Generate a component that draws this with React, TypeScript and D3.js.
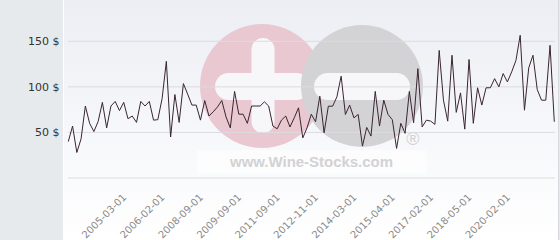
import React from "react";
import * as d3 from "d3";

const values: number[] = [
  40, 57, 28, 43, 79, 60, 51, 62, 83, 55,
  79, 84, 74, 83, 65, 68, 61, 84, 79, 84,
  63.5, 64, 87, 128, 45, 91.6, 61, 103.6, 92, 80,
  80, 63.5, 85, 68, 72.6, 78, 85, 67, 55, 95,
  70, 70, 60, 79, 79, 79, 83.6, 79, 57, 54,
  63.5, 68, 56, 66, 77, 44, 55, 70, 61.7, 89.8,
  49.6, 78.8, 78.8, 89, 111.7, 69.7, 80, 66, 69.7, 35,
  55.5, 46, 95, 57, 85.4, 69.7, 64, 32.5, 60, 49,
  95, 60.6, 120, 56, 63.5, 62.4, 58.8, 140, 85.4, 62.4,
  134.7, 72, 93.4, 53.6, 130, 60, 99, 80, 99, 99,
  109, 100, 114.6, 105.5, 116.4, 129, 156.6, 74.4, 120.8, 134.7,
  97, 85.4, 85.4, 145.6, 61.7,
];

const xTickLabels: string[] = [
  "2005-03-01", "2006-02-01", "2008-09-01", "2009-09-01", "2011-09-01",
  "2012-11-01", "2014-03-01", "2015-04-01", "2017-02-01", "2018-05-01", "2020-02-01",
];
const xTickIndices: number[] = [14, 23, 32, 41, 50, 59, 68, 77, 86, 95, 104];
const gridValues: number[] = [0, 50, 100, 150];
const yTickValues: number[] = [50, 100, 150];

export default function App() {
  const W = 560, H = 240;
  const idx = values.map((_, i) => i);
  const x = d3.scalePoint<number>().domain(idx).range([68.3, 554.3]);
  const y = d3.scaleLinear().domain([0, 150]).range([178, 41.3]);
  const line = d3.line<number>().x((_, i) => x(i) as number).y((d) => y(d));

  return (
    <svg width={W} height={H} style={{ position: "absolute", left: 0, top: 0 }} fontFamily="DejaVu Sans, sans-serif">
      <defs>
        <linearGradient id="bg" x1="0" y1="0" x2="0" y2="1">
          <stop offset="0" stopColor="#eceef4" />
          <stop offset="1" stopColor="#ffffff" />
        </linearGradient>
      </defs>
      <rect x={0} y={0} width={W} height={H} fill="#e6eaed" />
      <rect x={64} y={0} width={494} height={H} fill="url(#bg)" />
      <line x1={63.5} x2={63.5} y1={0} y2={H} stroke="#ffffff" strokeWidth={1} />
      <line x1={558.5} x2={558.5} y1={0} y2={H} stroke="#d6dadf" strokeWidth={1} />

      {/* watermark */}
      <g>
        <rect x={197} y={150} width={230} height={24} fill="#ffffff" opacity={0.5} />
        <circle cx={262} cy={86} r={62} fill="#e9c8d1" />
        <rect x={251.5} y={38} width={23} height={95} rx={11.5} fill="#f7f7fa" />
        <rect x={215} y={73} width={95} height={27} rx={13.5} fill="#f7f7fa" />
        <circle cx={362} cy={86} r={61} fill="#d3d3d5" />
        <rect x={314} y={73} width={96} height={27} rx={13.5} fill="#f7f7fa" />
        <text x={311.5} y={167} textAnchor="middle" fontSize={14} fontWeight="bold" fill="#d2d2d4"
          fontFamily="Liberation Sans, Arial, sans-serif" textLength={163} lengthAdjust="spacingAndGlyphs">
          www.Wine-Stocks.com
        </text>
        <text x={413} y={145} textAnchor="middle" fontSize={18} fill="#d2d2d4" fontFamily="Liberation Sans, Arial, sans-serif">®</text>
      </g>

      {gridValues.map((v) => (
        <line key={v} x1={68} x2={555} y1={y(v)} y2={y(v)} stroke="#dcdcdf" strokeWidth={1} />
      ))}
      {yTickValues.map((v) => (
        <text key={v} x={59.5} y={y(v)} dy="0.35em" textAnchor="end" fontSize={11} fill="#333333">
          {`${v} $`}
        </text>
      ))}
      {xTickIndices.map((ti, k) => {
        const tx = (x(ti) as number) - 1;
        return (
          <text key={ti} transform={`translate(${tx},${198}) rotate(-45)`} textAnchor="end" fontSize={10} fill="#8a8a8a">
            {xTickLabels[k]}
          </text>
        );
      })}

      <path d={line(values) ?? ""} fill="none" stroke="#3a2530" strokeWidth={1} strokeLinejoin="miter" />
    </svg>
  );
}
